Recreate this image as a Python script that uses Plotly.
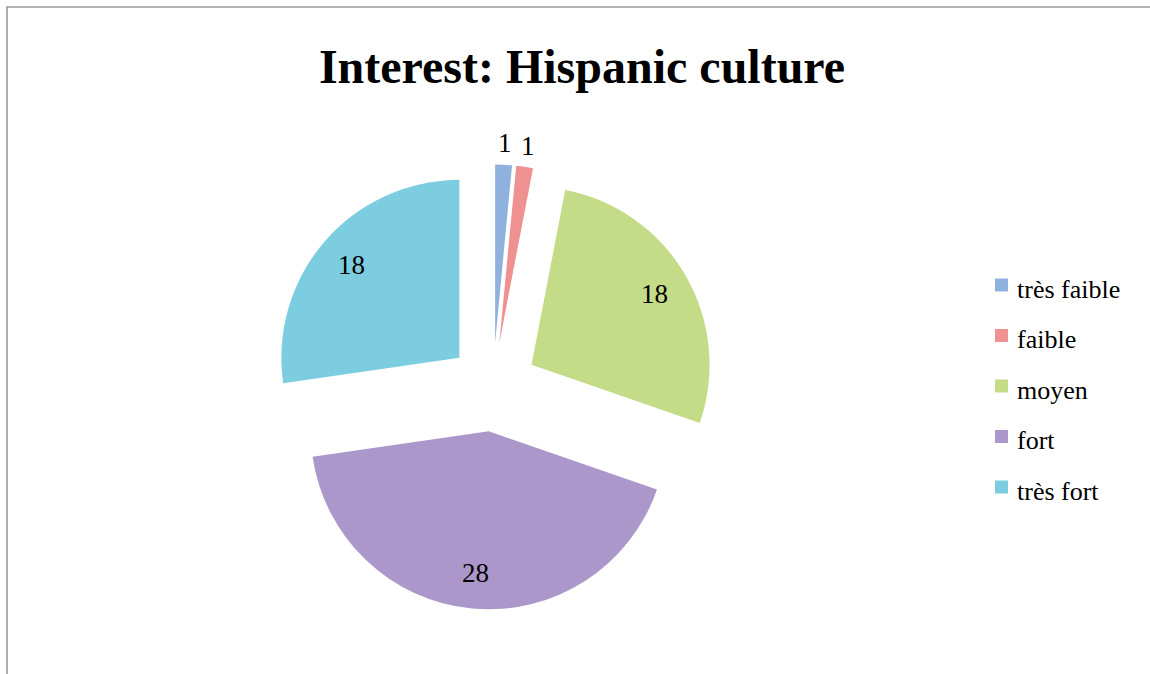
import math
import plotly.graph_objects as go

# Survey answers: interest in Hispanic culture
categories = ["très faible", "faible", "moyen", "fort", "très fort"]
counts = [1, 1, 18, 28, 18]
title_text = "Interest: Hispanic culture"

colors = ["#8fb1de", "#ee9190", "#c4db88", "#ab97c9", "#7ccde0"]

W, H = 1150, 674
PULL = 0.25
SERIF = "Liberation Serif, Times New Roman, serif"

# pie box (pixels)
box_x0, box_x1 = 270.5, 715.5
box_y0, box_y1 = 164.5, 609.5


def px(x):
    return x / W


def py(y):
    return 1 - y / H


fig = go.Figure()
fig.add_trace(go.Pie(
    labels=categories,
    values=counts,
    sort=False,
    direction="clockwise",
    rotation=0,
    pull=[PULL] * len(counts),
    marker=dict(colors=colors, line=dict(width=0)),
    textinfo="none",
    showlegend=False,
    hoverinfo="label+value",
    domain=dict(x=[px(box_x0), px(box_x1)], y=[py(box_y1), py(box_y0)]),
))

annotations = []
shapes = []

# value labels placed along each slice bisector
cx = (box_x0 + box_x1) / 2
cy = (box_y0 + box_y1) / 2
r = min(box_x1 - box_x0, box_y1 - box_y0) / 2 / (1 + PULL)
total = sum(counts)
cum = 0
for v in counts:
    mid = (cum + v / 2) / total * 2 * math.pi
    cum += v
    k = 1.12 if v / total < 0.05 else 0.80
    d = (PULL + k) * r
    annotations.append(dict(
        x=px(cx + d * math.sin(mid)), y=py(cy - d * math.cos(mid)),
        xref="paper", yref="paper", text=str(v), showarrow=False,
        xanchor="center", yanchor="middle",
        font=dict(family=SERIF, size=27, color="#000000"),
    ))

# legend
leg_x, leg_y, leg_step, sq = 995, 285, 50.5, 13
for i, (name, col) in enumerate(zip(categories, colors)):
    yc = leg_y + i * leg_step
    shapes.append(dict(
        type="rect", xref="paper", yref="paper",
        x0=px(leg_x), x1=px(leg_x + sq), y0=py(yc + sq / 2), y1=py(yc - sq / 2),
        fillcolor=col, line=dict(width=0),
    ))
    annotations.append(dict(
        x=px(leg_x + 20), y=py(yc + 4), xref="paper", yref="paper",
        text=name, showarrow=False, xanchor="left", yanchor="middle",
        font=dict(family=SERIF, size=26, color="#000000"),
    ))

# outer frame
shapes.append(dict(
    type="rect", xref="paper", yref="paper",
    x0=px(7), x1=1.1, y0=-0.1, y1=py(7),
    line=dict(color="#9a9a9a", width=1.6), fillcolor="rgba(0,0,0,0)",
))

fig.update_layout(
    width=W, height=H,
    margin=dict(l=0, r=0, t=0, b=0),
    paper_bgcolor="#ffffff",
    plot_bgcolor="#ffffff",
    title=dict(
        text=title_text, x=px(582), y=py(66), xanchor="center", yanchor="middle",
        font=dict(family=SERIF, size=48, color="#000000", weight="bold"),
    ),
    annotations=annotations,
    shapes=shapes,
)

fig.write_html("out.html")
